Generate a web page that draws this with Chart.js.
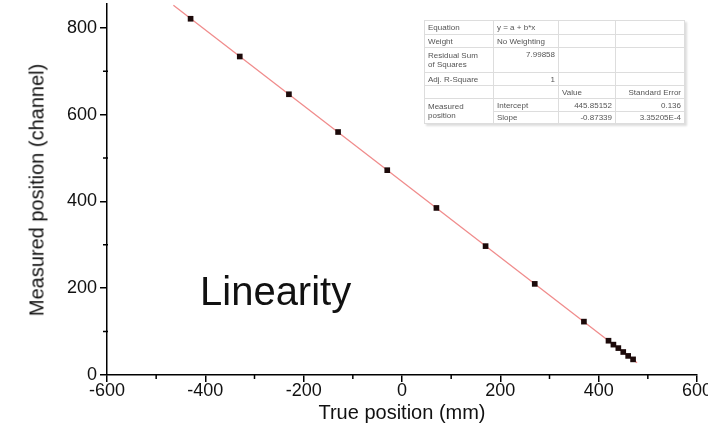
<!DOCTYPE html>
<html><head><meta charset="utf-8">
<script src="https://cdn.jsdelivr.net/npm/chart.js@4"></script>
<style>
html,body{margin:0;padding:0;background:#fff;overflow:hidden;}
#wrap{position:relative;width:708px;height:441px;overflow:hidden;font-family:"Liberation Sans",Arial,sans-serif;background:#fff;}
canvas{position:absolute;left:0;top:0;}
.ytitle{position:absolute;left:37px;top:190px;transform:translate(-50%,-50%) rotate(-90deg);font-size:20px;white-space:nowrap;color:#111;}
.xtitle{position:absolute;left:402px;top:412px;transform:translate(-50%,-50%);font-size:20px;white-space:nowrap;color:#111;}
.note{position:absolute;left:200px;top:271px;font-size:40px;line-height:40px;color:#111;white-space:nowrap;}
table.fit{position:absolute;left:424px;top:20px;border-collapse:collapse;font-size:8px;color:#555;border:1px solid #999;box-shadow:2px 2px 2px #ddd;background:#fff;table-layout:fixed;}
table.fit td{border:1px solid #ddd;padding:0 3px;line-height:9px;white-space:nowrap;vertical-align:middle;}
table.fit td.r{text-align:right;}
</style></head>
<body>
<div id="wrap">
<canvas id="c" width="708" height="441"></canvas>
<div class="ytitle">Measured position (channel)</div>
<div class="xtitle">True position (mm)</div>
<div class="note">Linearity</div>
<table class="fit">
<colgroup><col style="width:69px"><col style="width:65px"><col style="width:57px"><col style="width:69px"></colgroup>
<tr style="height:14px"><td>Equation</td><td>y = a + b*x</td><td></td><td></td></tr>
<tr style="height:13px"><td>Weight</td><td>No Weighting</td><td></td><td></td></tr>
<tr style="height:25px"><td>Residual Sum<br>of Squares</td><td class="r" style="vertical-align:top;padding-top:2px">7.99858</td><td></td><td></td></tr>
<tr style="height:13px"><td>Adj. R-Square</td><td class="r">1</td><td></td><td></td></tr>
<tr style="height:13px"><td></td><td></td><td>Value</td><td class="r">Standard Error</td></tr>
<tr style="height:13px"><td rowspan="2">Measured<br>position</td><td>Intercept</td><td class="r">445.85152</td><td class="r">0.136</td></tr>
<tr style="height:12px"><td>Slope</td><td class="r">-0.87339</td><td class="r">3.35205E-4</td></tr>
</table>
</div>
<script>
// ---- data ----
const trueX = [-430, -330, -230, -130, -30, 70, 170, 270, 370, 420, 430, 440, 450, 460, 470];
const measuredY = [821, 734, 647, 560, 472, 385, 297, 210, 123, 79, 70, 62, 53, 44, 36];
const fitX = [-465, 478];
const fitY = [852, 28];
const xTicks = [-600, -400, -200, 0, 200, 400, 600];
const yTicks = [0, 200, 400, 600, 800];
const xMinor = [-500, -300, -100, 100, 300, 500];
const yMinor = [100, 300, 500, 700];

const FONT = '"Liberation Sans", Arial, sans-serif';

const minorTicks = {
  id: 'minorTicks',
  afterDraw(chart) {
    const ctx = chart.ctx, xs = chart.scales.x, ys = chart.scales.y;
    const a = chart.chartArea;
    ctx.save();
    ctx.strokeStyle = '#000';
    ctx.lineWidth = 1.5;
    ctx.beginPath();
    xMinor.forEach(v => { const p = xs.getPixelForValue(v); ctx.moveTo(p, a.bottom - 1); ctx.lineTo(p, a.bottom + 4); });
    yMinor.forEach(v => { const p = ys.getPixelForValue(v); ctx.moveTo(a.left + 1, p); ctx.lineTo(a.left - 4, p); });
    ctx.stroke();
    ctx.restore();
  }
};

new Chart(document.getElementById('c'), {
  type: 'scatter',
  data: {
    datasets: [
      {
        data: trueX.map((x, i) => ({x, y: measuredY[i]})),
        pointStyle: 'rect',
        pointRadius: 4,
        pointBorderWidth: 0,
        backgroundColor: '#1c0a0a',
        borderColor: '#1c0a0a',
        showLine: false
      },
      {
        type: 'line',
        data: fitX.map((x, i) => ({x, y: fitY[i]})),
        borderColor: '#f08c8c',
        borderWidth: 1.3,
        pointRadius: 0,
        fill: false,
        tension: 0
      }
    ]
  },
  options: {
    responsive: false,
    devicePixelRatio: 1,
    animation: false,
    layout: {padding: {left: 0, top: 0, right: 11, bottom: 0}},
    plugins: {legend: {display: false}, tooltip: {enabled: false}},
    scales: {
      x: {
        type: 'linear', min: -600, max: 600,
        afterBuildTicks: s => { s.ticks = xTicks.map(v => ({value: v})); },
        afterFit: s => { s.height = 66; s.paddingLeft = 0; s.paddingRight = 0; },
        ticks: {font: {size: 18, family: FONT}, color: '#111', padding: -2, maxRotation: 0, autoSkip: false},
        grid: {display: true, drawOnChartArea: false, drawTicks: true, tickLength: 7, color: '#000', lineWidth: 1.5},
        border: {display: true, color: '#000', width: 1.5}
      },
      y: {
        type: 'linear', min: 0, max: 855,
        afterBuildTicks: s => { s.ticks = yTicks.map(v => ({value: v})); },
        afterFit: s => { s.width = 107; s.paddingTop = 0; s.paddingBottom = 0; },
        ticks: {font: {size: 18, family: FONT}, color: '#111', padding: 3, autoSkip: false},
        grid: {display: true, drawOnChartArea: false, drawTicks: true, tickLength: 7, color: '#000', lineWidth: 1.5},
        border: {display: true, color: '#000', width: 1.5}
      }
    }
  },
  plugins: [minorTicks]
});
</script>
</body></html>
